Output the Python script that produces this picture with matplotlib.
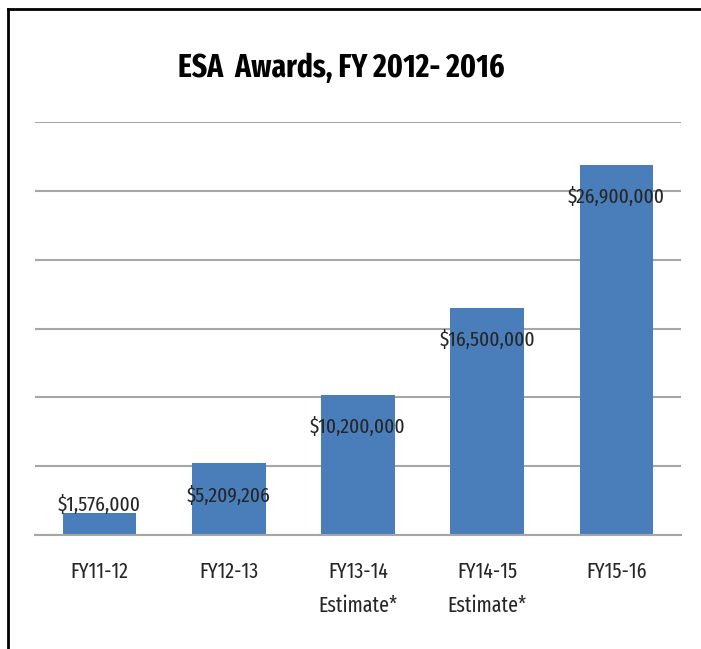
import matplotlib
matplotlib.use("Agg")
import matplotlib.pyplot as plt
from matplotlib.lines import Line2D

plt.rcParams['font.family'] = ['Fira Sans Extra Condensed', 'DejaVu Sans']

# data
categories = ["FY11-12", "FY12-13", "FY13-14\nEstimate*", "FY14-15\nEstimate*", "FY15-16"]
awards = [1576000, 5209206, 10200000, 16500000, 26900000]
award_labels = ["$1,576,000", "$5,209,206", "$10,200,000", "$16,500,000", "$26,900,000"]

bar_color = "#4a7ebb"
grid_color = "#a6a6a6"
text_color = "#262626"

fig = plt.figure(figsize=(7.01, 6.49), dpi=100)
ax = fig.add_axes([35/701, 1 - 535/649, 646/701, (535 - 122)/649])

x = range(len(categories))
ax.bar(x, awards, width=0.57, color=bar_color, zorder=2)

ax.set_xlim(-0.5, len(categories) - 0.5)
ax.set_ylim(0, 30000000)
ax.set_yticks(range(0, 30000001, 5000000))
ax.yaxis.grid(True, color=grid_color, linewidth=1.5, zorder=0)
ax.set_yticklabels([])
ax.tick_params(axis='y', length=0)
ax.tick_params(axis='x', length=0, pad=19, labelsize=15.5, labelcolor=text_color)
ax.set_xticks(list(x))
ax.set_xticklabels(categories, linespacing=1.75)
for s in ["top", "right", "left"]:
    ax.spines[s].set_visible(False)
ax.spines["bottom"].set_color(grid_color)
ax.spines["bottom"].set_linewidth(1.5)

# data labels sit just inside the bar top
for xi, v, lab in zip(x, awards, award_labels):
    ax.text(xi, max(v - 2350000, 2200000), lab, ha='center', va='center',
            fontsize=15.2, color=text_color, zorder=3)

fig.text(341/701, 1 - 68/649, "ESA  Awards, FY 2012- 2016", ha='center', va='center',
         fontsize=23, fontweight='bold', color='black')

# frame around the chart (cut off on the right and bottom)
fig.add_artist(Line2D([8/701, 8/701], [0, 1 - 9/649], color='black', linewidth=2,
                      transform=fig.transFigure))
fig.add_artist(Line2D([8/701, 1], [1 - 9/649, 1 - 9/649], color='black', linewidth=2,
                      transform=fig.transFigure))

fig.savefig("out.png", dpi=100)
